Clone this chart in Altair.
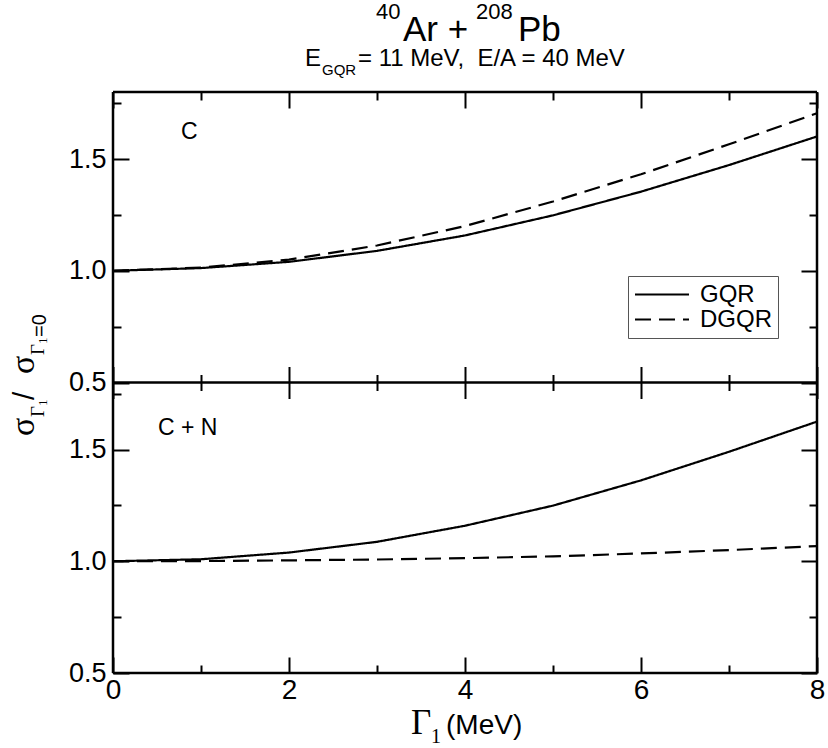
import altair as alt
import pandas as pd

# ---------------- data ----------------
gamma = [0, 1, 2, 3, 4, 5, 6, 7, 8]
c_gqr = [1.000, 1.012, 1.040, 1.089, 1.158, 1.248, 1.354, 1.473, 1.601]
c_dgqr = [1.000, 1.014, 1.050, 1.113, 1.200, 1.310, 1.432, 1.566, 1.705]
cn_gqr = [1.000, 1.009, 1.039, 1.087, 1.159, 1.249, 1.362, 1.490, 1.625]
cn_dgqr = [1.000, 1.001, 1.004, 1.008, 1.014, 1.022, 1.035, 1.050, 1.068]
series_names = ["GQR", "DGQR"]
panel_names = ["C", "C + N"]

x_domain = [0, 8]
y_domain = [0.5, 1.8]
x_major = [0, 2, 4, 6, 8]
x_minor = [1, 3, 5, 7]
y_major = [0.5, 1.0, 1.5]
y_minor = [0.75, 1.25, 1.75]

title_parts = ["40", "Ar +", "208", "Pb"]
subtitle_parts = ["E", "GQR", "\u00a0= 11 MeV,\u00a0\u00a0E/A = 40 MeV"]
xtitle_parts = ["\u0393", "1", "(MeV)"]
ytitle_parts = ["\u03c3", "\u0393", "1", "\u00a0/\u00a0", "\u03c3", "\u0393", "1", "=0"]

# ---------------- layout / style ----------------
W, H = 704, 581
MID = H / 2
SANS = "Liberation Sans, Arial, Helvetica, sans-serif"
SERIF = "Liberation Serif, Times New Roman, serif"
MAJ, MIN = 16, 8
FRAME = 2.5


def long_df(a, b):
    return pd.DataFrame({
        "gamma": gamma + gamma,
        "ratio": a + b,
        "series": [series_names[0]] * len(a) + [series_names[1]] * len(b),
    })


top_df = long_df(c_gqr, c_dgqr)
bot_df = long_df(cn_gqr, cn_dgqr)

x_scale = alt.Scale(domain=x_domain, nice=False, zero=False)
top_scale = alt.Scale(domain=y_domain, range=[MID, 0], nice=False, zero=False)
bot_scale = alt.Scale(domain=y_domain, range=[H, MID], nice=False, zero=False)


def ax(orient, values, ts, offset, labels=False, x=True):
    kw = dict(orient=orient, values=values, tickSize=ts, offset=offset,
              labels=labels, domain=False, grid=False, title=None,
              ticks=True, tickWidth=2, tickColor="black", labelFlush=False)
    if labels and x:
        kw.update(labelFont=SANS, labelFontSize=28, labelPadding=3,
                  labelColor="black")
    elif labels:
        kw.update(labelFont=SANS, labelFontSize=27, labelPadding=7,
                  labelColor="black", format=".1f")
    return alt.Axis(**kw)


legend = alt.Legend(
    title=None, orient="none", legendX=515, legendY=184,
    strokeColor="#555555", padding=6, symbolType="stroke", symbolSize=2916,
    symbolStrokeWidth=2, symbolStrokeColor="black", labelFont=SANS,
    labelFontSize=24, labelColor="black", labelOffset=10, clipHeight=25,
    rowPadding=0,
)
dash_scale = alt.Scale(domain=series_names, range=[[1, 0], [16, 8]])


def lines(df, ys, xax, yax):
    return alt.Chart(df).mark_line(color="black", strokeWidth=2.2).encode(
        x=alt.X("gamma:Q", scale=x_scale, axis=xax),
        y=alt.Y("ratio:Q", scale=ys, axis=yax),
        strokeDash=alt.StrokeDash("series:N", scale=dash_scale, legend=legend),
    )


def ghost(df, ys, xax, yax):
    return alt.Chart(df).mark_line(strokeOpacity=0).encode(
        x=alt.X("gamma:Q", scale=x_scale, axis=xax),
        y=alt.Y("ratio:Q", scale=ys, axis=yax),
        detail="series:N",
    )


one = pd.DataFrame({"k": [0]})


def txt(text, x, y, size, font=SANS, angle=None, baseline="alphabetic"):
    props = dict(text=text, font=font, fontSize=size, align="left",
                 baseline=baseline, color="black")
    if angle is not None:
        props["angle"] = angle
    return alt.Chart(one).mark_text(**props).encode(x=alt.value(x), y=alt.value(y))


def hrule(value, ys):
    return alt.Chart(pd.DataFrame({"v": [value]})).mark_rule(
        color="black", strokeWidth=FRAME).encode(y=alt.Y("v:Q", scale=ys, axis=None))


def vrule(value):
    return alt.Chart(pd.DataFrame({"v": [value]})).mark_rule(
        color="black", strokeWidth=FRAME).encode(x=alt.X("v:Q", scale=x_scale, axis=None))


mo = -(MID + MAJ)
mi = -(MID + MIN)
layers = [
    lines(top_df, top_scale, ax("bottom", x_major, MAJ, -MAJ, labels=True),
          ax("left", y_major, MAJ, -MAJ, labels=True, x=False)),
    lines(bot_df, bot_scale, ax("bottom", x_minor, MIN, -MIN),
          ax("left", y_major, MAJ, -MAJ, labels=True, x=False)),
    ghost(top_df, top_scale, ax("top", x_major, MAJ, -MAJ), ax("left", y_minor, MIN, -MIN)),
    ghost(top_df, top_scale, ax("top", x_minor, MIN, -MIN), ax("right", y_major, MAJ, -MAJ)),
    ghost(top_df, top_scale, ax("bottom", x_major, MAJ, mo), ax("right", y_minor, MIN, -MIN)),
    ghost(bot_df, bot_scale, ax("bottom", x_minor, MIN, mi), ax("left", y_minor, MIN, -MIN)),
    ghost(bot_df, bot_scale, ax("top", x_major, MAJ, mo), ax("right", y_major, MAJ, -MAJ)),
    ghost(bot_df, bot_scale, ax("top", x_minor, MIN, mi), ax("right", y_minor, MIN, -MIN)),
    # frame and panel divider
    hrule(y_domain[1], top_scale),
    hrule(y_domain[0], top_scale),
    hrule(y_domain[0], bot_scale),
    vrule(x_domain[0]),
    vrule(x_domain[1]),
    # panel labels
    txt(panel_names[0], 68, 40, 23, baseline="middle"),
    txt(panel_names[1], 45, 336, 23, baseline="middle"),
    # title
    txt(title_parts[0], 263, -73, 22),
    txt(title_parts[1], 290, -51, 35),
    txt(title_parts[2], 363, -73, 22),
    txt(title_parts[3], 405, -51, 35),
    # subtitle
    txt(subtitle_parts[0], 192, -26, 24),
    txt(subtitle_parts[1], 209, -17, 15),
    txt(subtitle_parts[2], 245, -26, 24),
    # x title
    txt(xtitle_parts[0], 298, 642, 35, font=SERIF),
    txt(xtitle_parts[1], 318, 651, 20, font=SERIF),
    txt(xtitle_parts[2], 333, 642, 28, font=SANS),
    # y title (rotated, reading upward)
    txt(ytitle_parts[0], -79, 344, 34, font=SERIF, angle=270),
    txt(ytitle_parts[1], -69, 325, 19, font=SERIF, angle=270),
    txt(ytitle_parts[2], -66, 314, 13, font=SERIF, angle=270),
    txt(ytitle_parts[3], -79, 308, 30, font=SANS, angle=270),
    txt(ytitle_parts[4], -79, 282, 34, font=SERIF, angle=270),
    txt(ytitle_parts[5], -69, 263, 19, font=SERIF, angle=270),
    txt(ytitle_parts[6], -66, 252, 13, font=SERIF, angle=270),
    txt(ytitle_parts[7], -67, 245, 20, font=SANS, angle=270),
]

chart = (
    alt.layer(*layers)
    .resolve_scale(y="independent")
    .resolve_axis(x="independent", y="independent")
    .properties(
        width=W, height=H,
        autosize=alt.AutoSizeParams(type="none"),
        padding={"left": 113, "top": 92, "right": 11, "bottom": 75},
    )
    .configure_view(stroke="black", strokeWidth=FRAME)
    .configure(background="white")
)

chart.save("out.html", embed_options={"renderer": "svg", "actions": False})
